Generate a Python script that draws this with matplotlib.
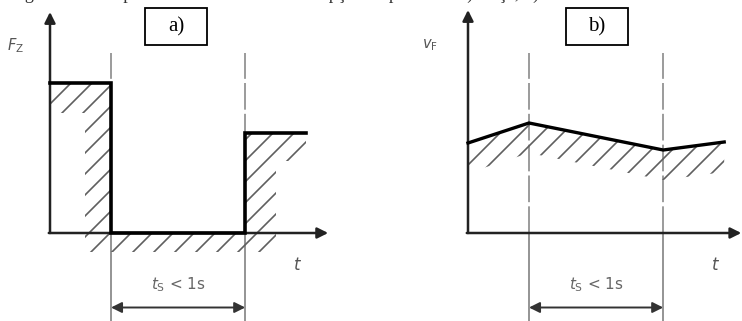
import matplotlib
matplotlib.use("Agg")
import matplotlib.pyplot as plt
import numpy as np
from matplotlib.patches import Polygon, Rectangle

plt.rcParams['mathtext.fontset'] = 'dejavusans'

# ---- data (abstract units: time, magnitude) ----
t_switch = [1.0, 3.2]          # instants of interruption start / end
# panel a: tractive force Fz (step)
force_t = [0.0, 1.0, 1.0, 3.2, 3.2, 4.2]
force_v = [3.0, 3.0, 0.0, 0.0, 2.0, 2.0]
# panel b: vehicle speed vF
speed_t = [0.0, 1.0, 3.2, 4.2]
speed_v = [1.8, 2.2, 1.66, 1.82]
panel_titles = ["a)", "b)"]
y_labels = [r"$F_\mathrm{Z}$", r"$v_\mathrm{F}$"]
interval_label = r"$t_\mathrm{S}$ < 1s"
caption = "Figura 3 – Comportamento durante a interrupção de potência: a) força; b) velocidade"

W, H = 742, 321
fig = plt.figure(figsize=(W / 100, H / 100), dpi=100)
fig.patch.set_facecolor("white")

XS, YS = 61.0, 50.0     # pixels per unit
AX_COL = "#222222"
GRAY = "#8a8a8a"
HATCH_COL = "#5f5f5f"


def make_axes(x0, x1, origin_px_x, origin_px_y=233):
    ax = fig.add_axes([x0 / W, 0, (x1 - x0) / W, 1])
    ax.set_xlim((x0 - origin_px_x) / XS, (x1 - origin_px_x) / XS)
    ax.set_ylim(-(H - origin_px_y) / YS, origin_px_y / YS)
    ax.axis("off")
    return ax


def hatch_band(ax, verts, spacing_px=21.0):
    poly = Polygon(verts, closed=True, fill=False, lw=0)
    ax.add_patch(poly)
    xs = [v[0] for v in verts]
    ys = [v[1] for v in verts]
    xmin, xmax = min(xs), max(xs)
    ymin, ymax = min(ys), max(ys)
    # 45-degree lines in pixel space: dy_units = dx_units * XS / YS
    slope = XS / YS
    step = spacing_px / XS
    c_start = xmin - (ymax - ymin) / slope - step
    for c in np.arange(c_start, xmax + step, step):
        xa = np.array([c, c + (ymax - ymin) / slope + step])
        ya = ymin + (xa - c) * slope
        ln, = ax.plot(xa, ya, color=HATCH_COL, lw=1.2, zorder=2)
        ln.set_clip_path(poly)


def draw_frame(ax, ytip, xtip, ylab, ylab_xy, tlab_xy, title, box_x):
    ax.annotate("", xy=(0, ytip), xytext=(0, 0),
                arrowprops=dict(arrowstyle="-|>", lw=1.8, color=AX_COL,
                                mutation_scale=16, shrinkA=0, shrinkB=0))
    ax.annotate("", xy=(xtip, 0), xytext=(-0.02, 0),
                arrowprops=dict(arrowstyle="-|>", lw=1.8, color=AX_COL,
                                mutation_scale=16, shrinkA=0, shrinkB=0))
    ax.text(*ylab_xy, ylab, fontsize=10.5, color="#555555", ha="center", va="center")
    ax.text(*tlab_xy, r"$t$", fontsize=12, color="#555555", ha="center", va="center")
    for ts in t_switch:
        ax.plot([ts, ts], [0, 3.6], color=GRAY, lw=1.2, ls=(0, (16, 2.5)), zorder=1)
        ax.plot([ts, ts], [-1.8, 0], color="#777777", lw=1.1, zorder=1)
    ax.annotate("", xy=(t_switch[1], -1.49), xytext=(t_switch[0], -1.49),
                arrowprops=dict(arrowstyle="<|-|>", lw=1.4, color="#333333",
                                mutation_scale=16, shrinkA=0, shrinkB=0))
    ax.text(sum(t_switch) / 2, -1.04, interval_label, fontsize=11, color="#666666",
            ha="center", va="center")
    ax.add_patch(Rectangle((box_x, 3.76), 1.01, 0.74, fill=False, ec="black", lw=1.3, zorder=5))
    ax.text(box_x + 0.505, 4.13, title, fontsize=15, family="Liberation Serif",
            ha="center", va="center", zorder=6)


# ---------------- panel a ----------------
axa = make_axes(0, 371, 50)
band_a = [(0, force_v[0]), (force_t[1], force_v[1]), (force_t[2], force_v[2]),
          (force_t[3], force_v[3]), (force_t[4], force_v[4]), (force_t[5], force_v[5]),
          (force_t[5], force_v[5] - 0.55), (force_t[4] + 0.5, force_v[5] - 0.55),
          (force_t[4] + 0.5, -0.38), (force_t[1] - 0.42, -0.38),
          (force_t[1] - 0.42, force_v[0] - 0.6), (0, force_v[0] - 0.6)]
hatch_band(axa, band_a)
draw_frame(axa, 4.42, 4.56, y_labels[0], (-0.56, 3.75), (4.05, -0.64), panel_titles[0], 1.56)
axa.plot(force_t, force_v, color="black", lw=2.6, solid_joinstyle="miter", zorder=4)

# ---------------- panel b ----------------
axb = make_axes(371, 742, 468)
band_b = [(t, v) for t, v in zip(speed_t, speed_v)] + \
         [(t, v - 0.6) for t, v in zip(speed_t[::-1], speed_v[::-1])]
hatch_band(axb, band_b)
draw_frame(axb, 4.46, 4.48, y_labels[1], (-0.63, 3.76), (4.05, -0.64), panel_titles[1], 1.61)
axb.plot(speed_t, speed_v, color="black", lw=2.4, solid_joinstyle="miter", zorder=4)

# clipped caption line at the very top (cut off in the reference as well)
fig.text(10 / W, 1 + 1.5 / H, caption, fontsize=13, family="Liberation Serif",
         ha="left", va="baseline", color="#333333")

fig.savefig("out.png", dpi=100, facecolor="white")
